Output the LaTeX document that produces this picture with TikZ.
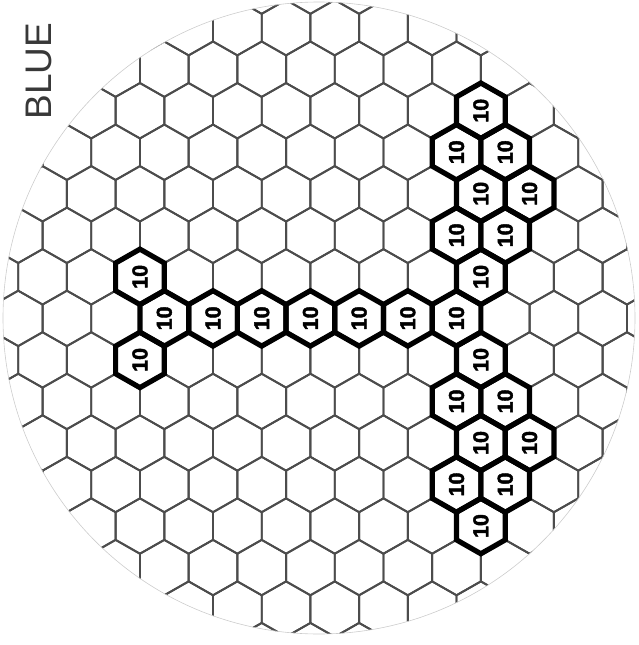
\documentclass[tikz,border=0pt]{standalone}
\usepackage{fontspec}
\setmainfont{Liberation Sans}
\newfontfamily\numfont[BoldFeatures={FakeBold=2}]{Liberation Sans}
\newcommand\hxp[2]{(#1,#2-27.7) -- (#1+24.35,#2-13.85) -- (#1+24.35,#2+13.85) -- (#1,#2+27.7) -- (#1-24.35,#2+13.85) -- (#1-24.35,#2-13.85) -- cycle}
\begin{document}
\begin{tikzpicture}[x=1pt,y=-1pt,
  gridline/.style={draw=black!70,line width=1.9pt},
  hotfill/.style={fill=white},
  hotline/.style={draw=black,line width=5.2pt,line join=miter},
  rim/.style={draw=black!20,line width=0.6pt},
  lbl/.style={rotate=90,font=\numfont\bfseries\fontsize{21.5}{21.5}\selectfont,inner sep=0pt},
  title/.style={rotate=90,font=\fontsize{37}{37}\selectfont,text=black!78,inner sep=0pt}]
\useasboundingbox (0,0) rectangle (638,645);
\begin{scope}
  \clip (319,318) circle[radius=316];
  \foreach \r in {0,...,19}{
    \foreach \c in {-4,...,10}{
      \pgfmathsetmacro\hx{164.3+48.7*(\c+0.5*mod(\r,2))}
      \pgfmathsetmacro\hy{69.2+41.53*(\r-2)}
      \draw[gridline] \hxp{\hx}{\hy};
    }
  }
\end{scope}
\draw[rim] (319,318) circle[radius=316];
\def\hotlist{1/6,2/6,2/7,3/6,3/7,4/6,4/7,5/6,6/0,6/1,6/2,6/3,6/4,6/5,6/6,5/-1,7/-1,7/6,8/6,8/7,9/6,9/7,10/6,10/7,11/6}
\foreach \r/\c in \hotlist{
  \pgfmathsetmacro\hx{164.3+48.7*(\c+0.5*mod(\r,2))}
  \pgfmathsetmacro\hy{69.2+41.53*\r}
  \fill[hotfill] \hxp{\hx}{\hy};
}
\foreach \r/\c in \hotlist{
  \pgfmathsetmacro\hx{164.3+48.7*(\c+0.5*mod(\r,2))}
  \pgfmathsetmacro\hy{69.2+41.53*\r}
  \draw[hotline] \hxp{\hx}{\hy};
}
\foreach \r/\c [count=\i] in \hotlist{
  \pgfmathsetmacro\hx{164.3+48.7*(\c+0.5*mod(\r,2))}
  \pgfmathsetmacro\hy{69.2+41.53*\r}
  \node[lbl] (lab\i) at (\hx,\hy) {10};
}
\node[title] (blue) at (38.5,71) {BLUE};
\end{tikzpicture}
\end{document}
